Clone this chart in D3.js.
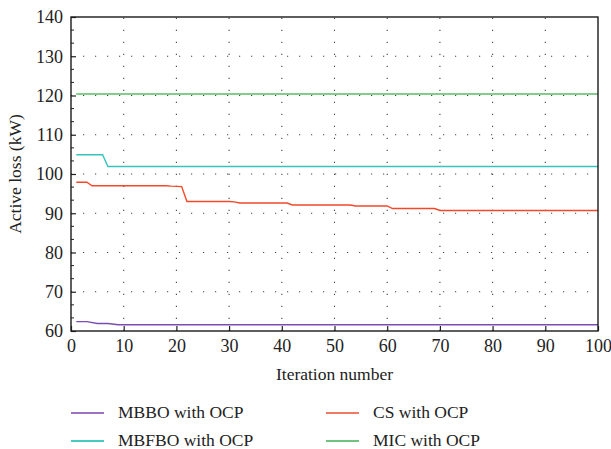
<!DOCTYPE html>
<html><head><meta charset="utf-8">
<script src="https://cdn.jsdelivr.net/npm/d3@7"></script>
</head>
<body style="margin:0"><svg id="c" width="611" height="449" font-family="Liberation Serif"></svg>
<script>
// ---- data ----
const seriesNames = ["MBBO with OCP", "CS with OCP", "MBFBO with OCP", "MIC with OCP"];
const seriesColors = ["#7a4db0", "#f2492b", "#35c4bd", "#58bd66"];
const legendColors = ["#9d72c4", "#f27a62", "#45cbc4", "#70c27c"];
// step-like traces as [iteration, value]
const mbbo = [[1,62.4],[3,62.4],[5,61.9],[7,61.9],[9,61.6],[100,61.6]];
const mbfbo = [[1,104.9],[6,104.9],[7,101.9],[100,101.9]];
const cs = [[1,97.9],[3,97.9],[4,97.0],[18,97.0],[19,96.9],[21,96.8],[22,93.0],[30,93.0],[31,92.9],[32,92.6],[41,92.6],[42,92.1],[53,92.1],[54,91.85],[60,91.85],[61,91.2],[69,91.2],[70,90.7],[100,90.7]];
const mic = [[1,120.4],[100,120.4]];
const allSeries = [mbbo, cs, mbfbo, mic];
const xTicks = [0,10,20,30,40,50,60,70,80,90,100];
const yTicks = [60,70,80,90,100,110,120,130,140];

const FONT = "Liberation Serif";

// ---- layout ----
const svg = d3.select("#c");
const L = 71, R = 598, T = 17, B = 331;
const x = d3.scaleLinear().domain([0,100]).range([L,R]);
const y = d3.scaleLinear().domain([60,140]).range([B,T]);

// grid (dotted)
const g = svg.append("g");
g.selectAll("line.vg").data(xTicks.slice(1,-1)).join("line")
  .attr("x1", d=>x(d)).attr("x2", d=>x(d)).attr("y1", B).attr("y2", T)
  .attr("stroke","#444").attr("stroke-width",1.1).attr("stroke-dasharray","1.2,10.8");
g.selectAll("line.hg").data(yTicks.slice(1,-1)).join("line")
  .attr("y1", d=>y(d)).attr("y2", d=>y(d)).attr("x1", L).attr("x2", R)
  .attr("stroke","#444").attr("stroke-width",1.1).attr("stroke-dasharray","1.2,10.8");

// lines
const line = d3.line().x(d=>x(d[0])).y(d=>y(d[1]));
allSeries.forEach((s,i)=>{
  svg.append("path").datum(s).attr("d", line).attr("fill","none")
    .attr("stroke", seriesColors[i]).attr("stroke-width",1.4);
});

// axes
const xAxis = d3.axisBottom(x).tickValues(xTicks).tickSize(-5).tickPadding(8).tickSizeOuter(0);
const yAxis = d3.axisLeft(y).tickValues(yTicks).tickSize(-5).tickPadding(8).tickSizeOuter(0);
const ya = svg.append("g").attr("transform",`translate(${L},0)`).call(yAxis);
const xa = svg.append("g").attr("transform",`translate(0,${B})`).call(xAxis);
[xa,ya].forEach(a=>{
  a.attr("font-family", FONT).attr("font-size", 18);
  a.select(".domain").remove();
  a.selectAll("line").attr("stroke","#222").attr("stroke-width",1.2);
  a.selectAll("text").attr("font-family",FONT).attr("font-size",18).attr("fill","#222");
});
// minor y ticks (thirds)
const yMinor = [];
for (let v=60; v<140; v+=10){ yMinor.push(v+10/3, v+20/3); }
svg.append("g").selectAll("line").data(yMinor).join("line")
  .attr("x1",L).attr("x2",L+3).attr("y1",d=>y(d)).attr("y2",d=>y(d))
  .attr("stroke","#222").attr("stroke-width",1);

// frame
svg.append("rect").attr("x",L).attr("y",T).attr("width",R-L).attr("height",B-T)
  .attr("fill","none").attr("stroke","#1a1a1a").attr("stroke-width",1.4);

// axis titles
svg.append("text").attr("x",(L+R)/2).attr("y",380).attr("text-anchor","middle")
  .attr("font-family",FONT).attr("font-size",17.5).attr("fill","#222").text("Iteration number");
svg.append("text").attr("transform",`translate(21,${(T+B)/2}) rotate(-90)`)
  .attr("text-anchor","middle").attr("font-family",FONT).attr("font-size",17.5)
  .attr("fill","#222").text("Active loss (kW)");

// legend
const legPos = [[71,413],[326,413],[71,441],[326,441]];
seriesNames.forEach((n,i)=>{
  const [lx,ly] = legPos[i];
  svg.append("line").attr("x1",lx).attr("x2",lx+33).attr("y1",ly).attr("y2",ly)
    .attr("stroke",legendColors[i]).attr("stroke-width",2);
  svg.append("text").attr("x",lx+47).attr("y",ly+5)
    .attr("font-family",FONT).attr("font-size",17.5)
    .attr("fill","#222").text(n);
});
</script></body></html>
